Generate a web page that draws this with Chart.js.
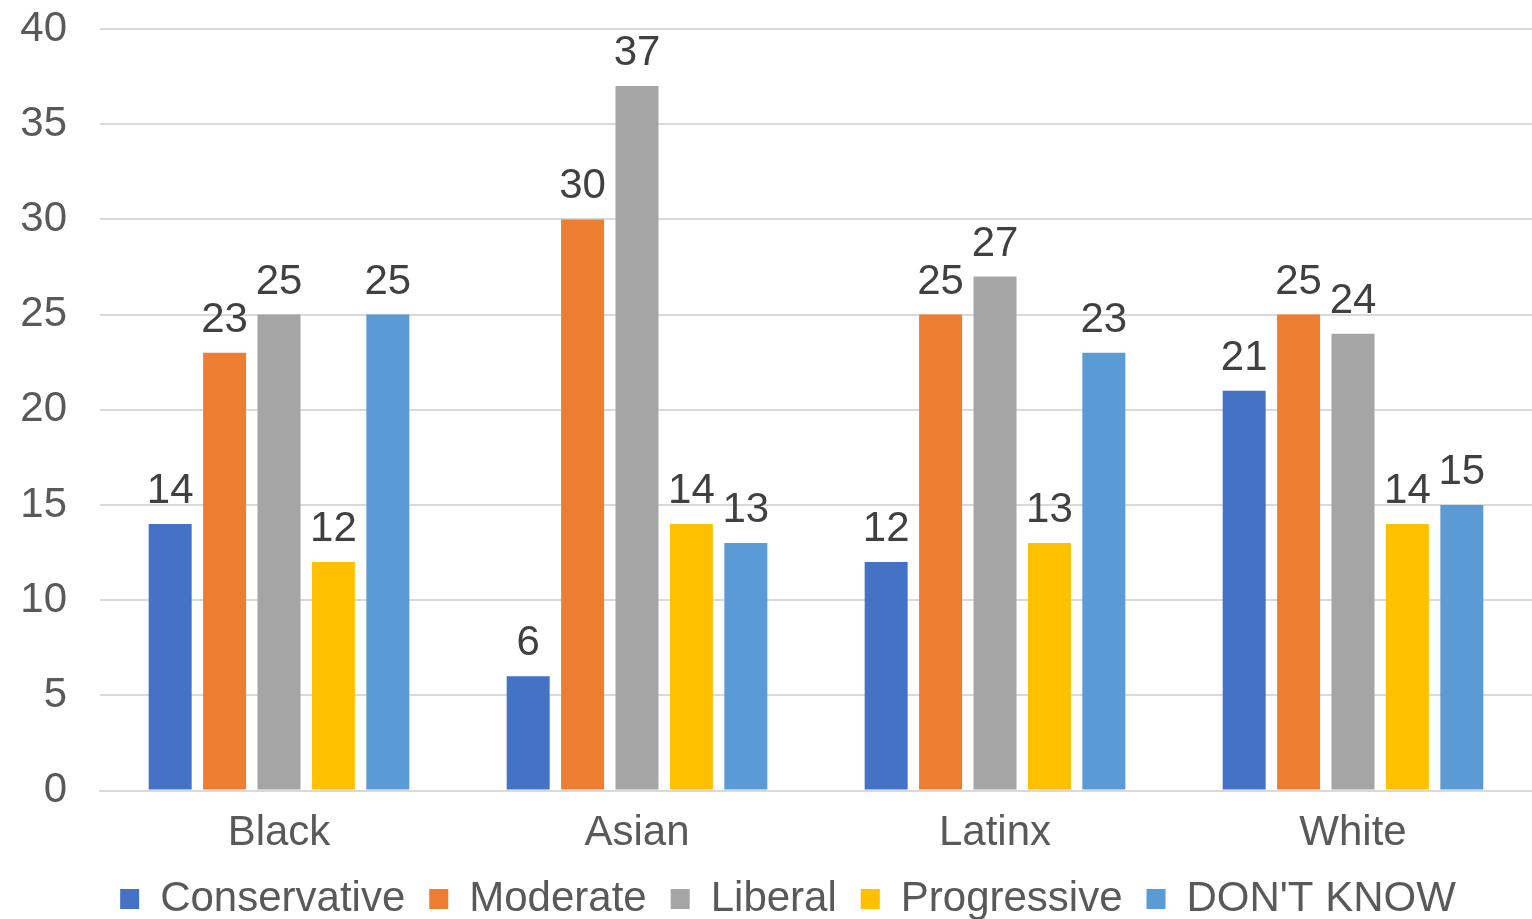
<!DOCTYPE html>
<html>
<head>
<meta charset="utf-8">
<script src="https://cdn.jsdelivr.net/npm/chart.js@4"></script>
<style>
  body { margin: 0; background: #fff; }
  #wrap { width: 1532px; height: 919px; }
</style>
</head>
<body>
<div id="wrap"><canvas id="chart"></canvas></div>
<script>
// data
var groups = ['Black', 'Asian', 'Latinx', 'White'];
var conservative = [14, 6, 12, 21];
var moderate = [23, 30, 25, 25];
var liberal = [25, 37, 27, 24];
var progressive = [12, 14, 13, 14];
var dontKnow = [25, 13, 23, 15];
var yTicks = [0, 5, 10, 15, 20, 25, 30, 35, 40];

var FONT = '"Liberation Sans", Arial, Helvetica, sans-serif';

// value labels above bars
var barLabels = {
  id: 'barLabels',
  afterDatasetsDraw: function (chart) {
    var ctx = chart.ctx;
    ctx.save();
    ctx.font = '42px ' + FONT;
    ctx.fillStyle = '#404040';
    ctx.textAlign = 'center';
    ctx.textBaseline = 'alphabetic';
    chart.data.datasets.forEach(function (ds, i) {
      chart.getDatasetMeta(i).data.forEach(function (bar, j) {
        ctx.fillText(ds.data[j], bar.x, bar.y - 21);
      });
    });
    ctx.restore();
  }
};

// tighten the legend box a bit and nudge it right
var legendTweak = {
  id: 'legendTweak',
  beforeLayout: function (chart) {
    var lg = chart.legend;
    if (!lg || lg._tweaked) return;
    lg._tweaked = true;
    var fit = lg.fit;
    lg.fit = function () {
      fit.call(this);
      this.height -= 11;
    };
    var draw = lg.draw;
    lg.draw = function () {
      var c = this.ctx;
      c.save();
      c.translate(22, 0);
      draw.apply(this, arguments);
      c.restore();
    };
  }
};

function ds(label, data, color) {
  return {
    label: label,
    data: data,
    backgroundColor: color,
    borderWidth: 0,
    categoryPercentage: 0.76,
    barPercentage: 0.79
  };
}

var ctx = document.getElementById('chart').getContext('2d');
var chart = new Chart(ctx, {
  type: 'bar',
  data: {
    labels: groups,
    datasets: [
      ds('Conservative', conservative, '#4472C4'),
      ds('Moderate', moderate, '#ED7D31'),
      ds('Liberal', liberal, '#A5A5A5'),
      ds('Progressive', progressive, '#FFC000'),
      ds("DON'T KNOW", dontKnow, '#5B9BD5')
    ]
  },
  options: {
    responsive: true,
    maintainAspectRatio: false,
    animation: false,
    layout: { padding: { top: 29, left: 0, right: 0, bottom: 0 } },
    plugins: {
      tooltip: { enabled: false },
      legend: {
        position: 'bottom',
        labels: {
          font: { family: FONT, size: 42 },
          color: '#595959',
          boxWidth: 19,
          boxHeight: 20,
          padding: 24
        }
      }
    },
    scales: {
      x: {
        grid: { display: false },
        border: { color: '#D9D9D9', width: 2 },
        ticks: { font: { family: FONT, size: 42 }, color: '#595959', padding: 10 },
        afterFit: function (axis) {
          axis.height -= 15;
        }
      },
      y: {
        min: 0,
        max: 40,
        afterBuildTicks: function (axis) {
          axis.ticks = yTicks.map(function (v) { return { value: v }; });
        },
        afterFit: function (axis) {
          axis.width = 100;
          axis.paddingTop = 0;
          axis.paddingBottom = 0;
        },
        grid: { color: '#D9D9D9', lineWidth: 2, drawTicks: false },
        border: { display: false },
        ticks: { font: { family: FONT, size: 42 }, color: '#595959', padding: 33 }
      }
    }
  },
  plugins: [barLabels, legendTweak]
});
</script>
</body>
</html>
